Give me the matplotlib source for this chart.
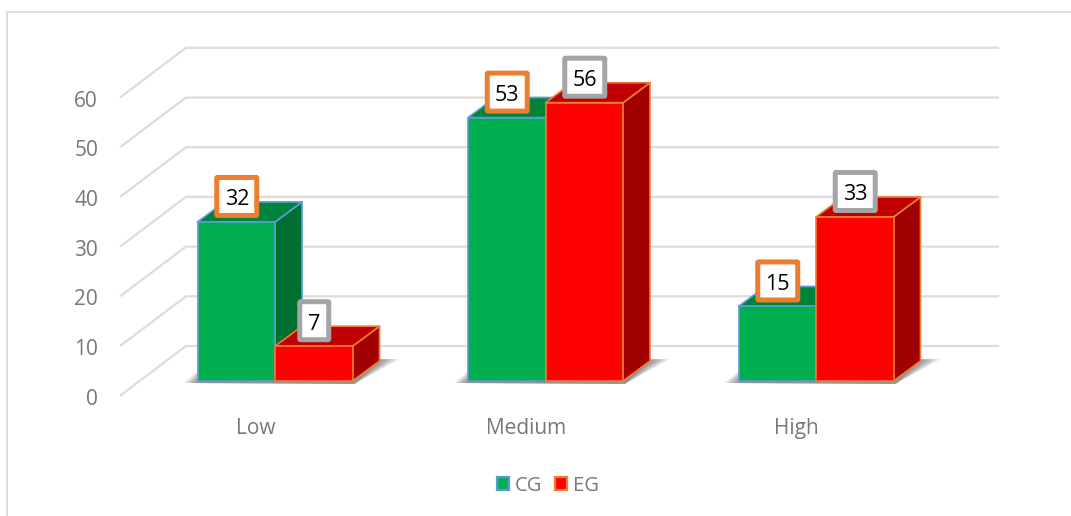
import matplotlib
matplotlib.use("Agg")
import matplotlib.pyplot as plt
from matplotlib.patches import FancyBboxPatch, Patch, Polygon

categories = ["Low", "Medium", "High"]
series_names = ["CG", "EG"]
cg_values = [32, 53, 15]
eg_values = [7, 56, 33]
y_ticks = [0, 10, 20, 30, 40, 50, 60]

W, H = 1071, 516
BASE_PX = 381.0       # pixel row of the bars' front base
UNIT_PX = 4.97        # pixels per value unit
FIRST_CENTER = 275.0
GROUP_STEP = 270.5
BAR_W = 77.5
DEPTH_X = 27.0
DEPTH_Y = 20.0 / UNIT_PX
WALL_FRONT_X = 121.0
WALL_BACK_X = 186.0
WALL_RIGHT_X = 998.0
FRONT_DROP = 14.0 / UNIT_PX
BACK_RISE = 35.0 / UNIT_PX

FACE = {"CG": ("#00B050", "#00843C", "#006F32", "#5B9BD5"),
        "EG": ("#FF0000", "#C00000", "#A00000", "#ED7D31")}
LABEL_EDGE = {"CG": "#ED7D31", "EG": "#A5A5A5"}
GRID = "#DCDCDC"
TEXT = "#787878"
FONT = "Open Sans"

fig = plt.figure(figsize=(W / 100, H / 100), dpi=100, facecolor="white")
ax = fig.add_axes([0, 0, 1, 1])
ax.set_xlim(0, W)
ax.set_ylim(-(H - BASE_PX) / UNIT_PX, BASE_PX / UNIT_PX)
ax.axis("off")

# Chart frame, clipped on the right and bottom by the canvas
top_y = (BASE_PX - 12) / UNIT_PX
ax.plot([7, 7, W], [ax.get_ylim()[0], top_y, top_y], color="#DEDEDE", lw=1.4, zorder=1)

# Wall and floor gridlines
for v in y_ticks:
    ax.plot([WALL_FRONT_X, WALL_BACK_X, WALL_RIGHT_X],
            [v - FRONT_DROP, v + BACK_RISE, v + BACK_RISE],
            color=GRID, lw=1.6, zorder=1, solid_joinstyle="miter")
    ax.text(98, v - FRONT_DROP - 0.35, str(v), ha="right", va="center_baseline",
            fontsize=15, color=TEXT, family=FONT)


def floor_shadow(x0, x1):
    """Soft shadow falling on the floor behind and beside a bar group."""
    steps = 10
    for k in range(steps):
        g = k / (steps - 1)
        spread = 14 * (1 - g)
        poly = [(x0 - spread, -0.4),
                (x0 + 12, 3.2 + 0.8 * (1 - g)),
                (x1 + DEPTH_X + 2 + spread * 1.3, 4.4),
                (x1 + 2, -0.6)]
        ax.add_patch(Polygon(poly, closed=True, fc="#404040", ec="none",
                             alpha=0.075, zorder=2))


def box_3d(x0, x1, v, name):
    front, top, side, edge = FACE[name]
    faces = [
        ([(x1, 0), (x1 + DEPTH_X, DEPTH_Y), (x1 + DEPTH_X, v + DEPTH_Y), (x1, v)], side),
        ([(x0, v), (x1, v), (x1 + DEPTH_X, v + DEPTH_Y), (x0 + DEPTH_X, v + DEPTH_Y)], top),
        ([(x0, 0), (x1, 0), (x1, v), (x0, v)], front),
    ]
    for pts, color in faces:
        ax.add_patch(Polygon(pts, closed=True, fc=color, ec=edge, lw=1.2,
                             joinstyle="round", zorder=3))


for i, cat in enumerate(categories):
    c = FIRST_CENTER + GROUP_STEP * i
    floor_shadow(c - BAR_W, c + BAR_W)
    box_3d(c - BAR_W, c, cg_values[i], "CG")
    box_3d(c, c + BAR_W, eg_values[i], "EG")
    ax.text(c - 19.5, -(428.5 - BASE_PX) / UNIT_PX, cat, ha="center", va="center",
            fontsize=15, color=TEXT, family=FONT)

# Value callouts above each bar
for i in range(len(categories)):
    c = FIRST_CENTER + GROUP_STEP * i
    for name, v, xc in (("CG", cg_values[i], c - BAR_W / 2), ("EG", eg_values[i], c + BAR_W / 2)):
        label = str(v)
        bw = 40 if len(label) == 2 else 29
        bh = 38
        yc = v + 25.5 / UNIT_PX
        ax.add_patch(FancyBboxPatch(
            (xc + 0.5 - bw / 2, yc - bh / 2 / UNIT_PX), bw, bh / UNIT_PX,
            boxstyle="round,pad=0,rounding_size=0.8", mutation_aspect=1 / UNIT_PX,
            fc="white", ec=LABEL_EDGE[name], lw=3.6, zorder=5))
        ax.text(xc + 0.5, yc - 0.2, label, ha="center", va="center_baseline", fontsize=15.5,
                color="black", family=FONT, zorder=6)

handles = [Patch(fc=FACE[n][0], ec=FACE[n][3], lw=1.6) for n in series_names]
ax.legend(handles, series_names, loc="center", ncol=2, frameon=False,
          bbox_to_anchor=(548 / W, 1 - 486 / H), bbox_transform=fig.transFigure,
          prop={"family": FONT, "size": 14.5}, labelcolor=TEXT,
          handlelength=0.62, handleheight=0.62, handletextpad=0.3, columnspacing=0.6)

fig.savefig("out.png", dpi=100, facecolor="white")
